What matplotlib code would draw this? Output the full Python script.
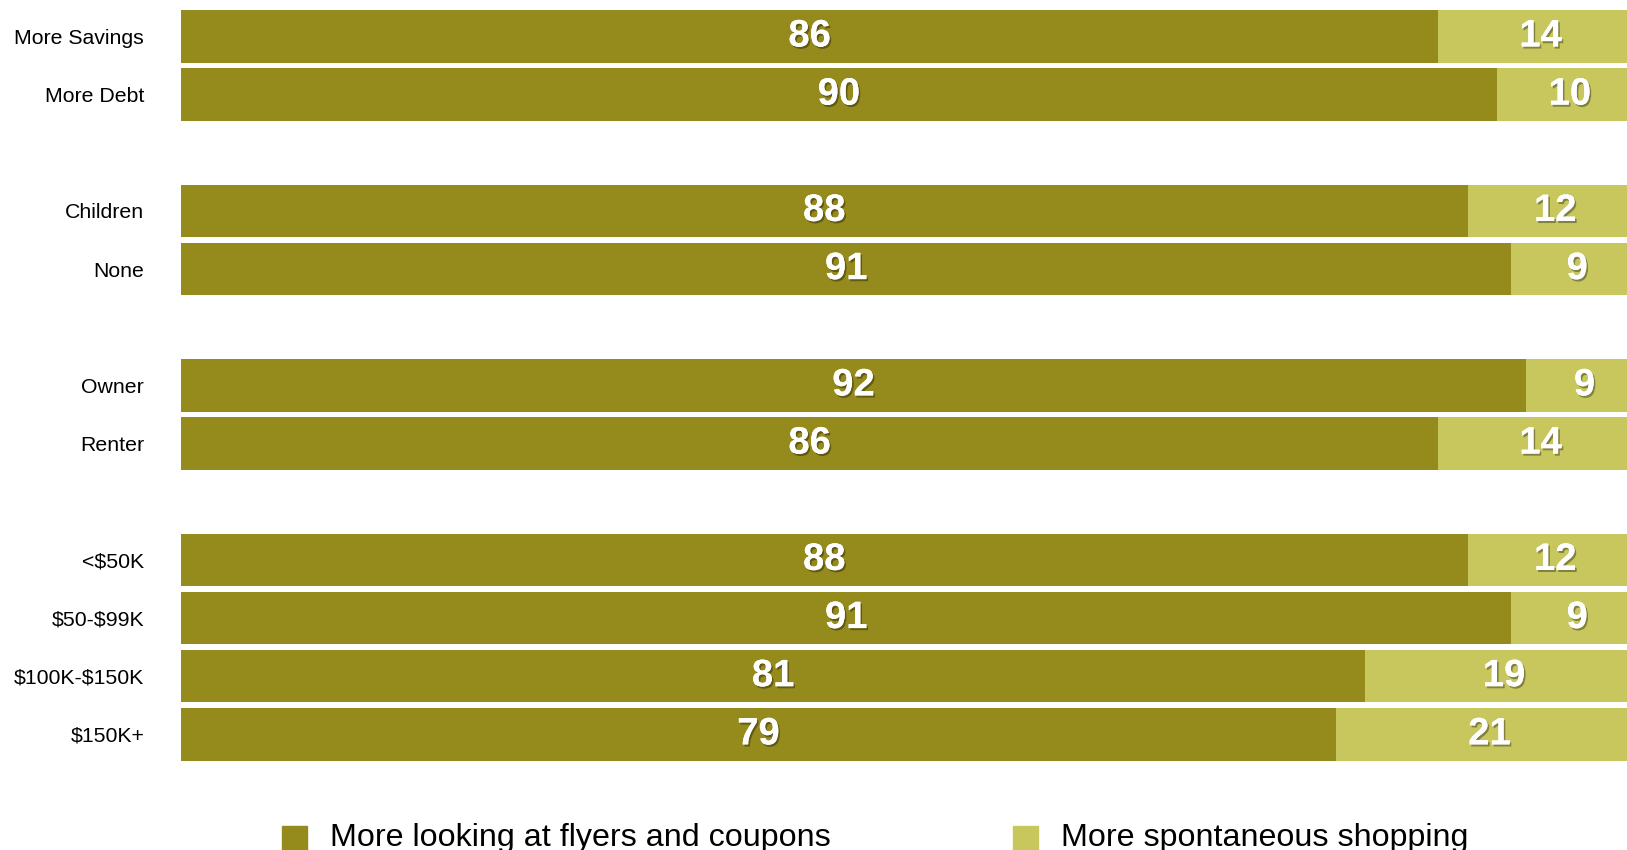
import matplotlib.pyplot as plt
import matplotlib.patheffects as pe
from matplotlib.patches import Rectangle

plt.rcParams['font.family'] = ['Liberation Sans', 'DejaVu Sans']
plt.rcParams['text.parse_math'] = False  # plain dollar signs in the labels

# rows top to bottom, blank slots between the groups
labels = ["More Savings", "More Debt", "Children", "None", "Owner", "Renter",
          "<$50K", "$50-$99K", "$100K-$150K", "$150K+"]
rows = [0, 1, 3, 4, 6, 7, 9, 10, 11, 12]
coupons = [86, 90, 88, 91, 92, 86, 88, 91, 81, 79]
spontaneous = [14, 10, 12, 9, 9, 14, 12, 9, 19, 21]

dark = "#958A1C"
light = "#C8C75E"

fig = plt.figure(figsize=(16.27, 8.5), dpi=100)
# axes run off the right edge of the figure
ax = fig.add_axes([181 / 1627, 0.1018, 1462 / 1627, 0.8895])

ax.barh(rows, coupons, height=0.90, color=dark)
ax.barh(rows, spontaneous, left=coupons, height=0.90, color=light)

ax.set_xlim(0, 100)
ax.set_ylim(12.5, -0.5)
ax.set_yticks(rows)
ax.set_yticklabels(labels, fontsize=15.3)
ax.tick_params(axis='y', length=0, pad=26.5)
ax.set_xticks([])
for s in ax.spines.values():
    s.set_visible(False)

shadow = [pe.withSimplePatchShadow(offset=(1.2, -1.5), shadow_rgbFace='black', alpha=0.35),
          pe.Normal()]
for r, a, b in zip(rows, coupons, spontaneous):
    ax.text(a / 2, r, str(a), ha='center', va='center', color='white',
            fontsize=27.5, fontweight='bold', path_effects=shadow)
    # centre in the visible part of the segment
    mid = (a + min(a + b, 100)) / 2
    ax.text(mid, r, str(b), ha='center', va='center', color='white',
            fontsize=27.5, fontweight='bold', path_effects=shadow)

# legend along the bottom edge
W, H = 1627, 850
for x0, col, txt in [(282, dark, "More looking at flyers and coupons"),
                     (1013, light, "More spontaneous shopping")]:
    fig.add_artist(Rectangle((x0 / W, (H - 851) / H), 25 / W, 25 / H,
                             transform=fig.transFigure, color=col))
    fig.text((x0 + 48) / W, (H - 846) / H, txt, fontsize=23.2, va='baseline', ha='left')

fig.savefig("out.png", dpi=100)
